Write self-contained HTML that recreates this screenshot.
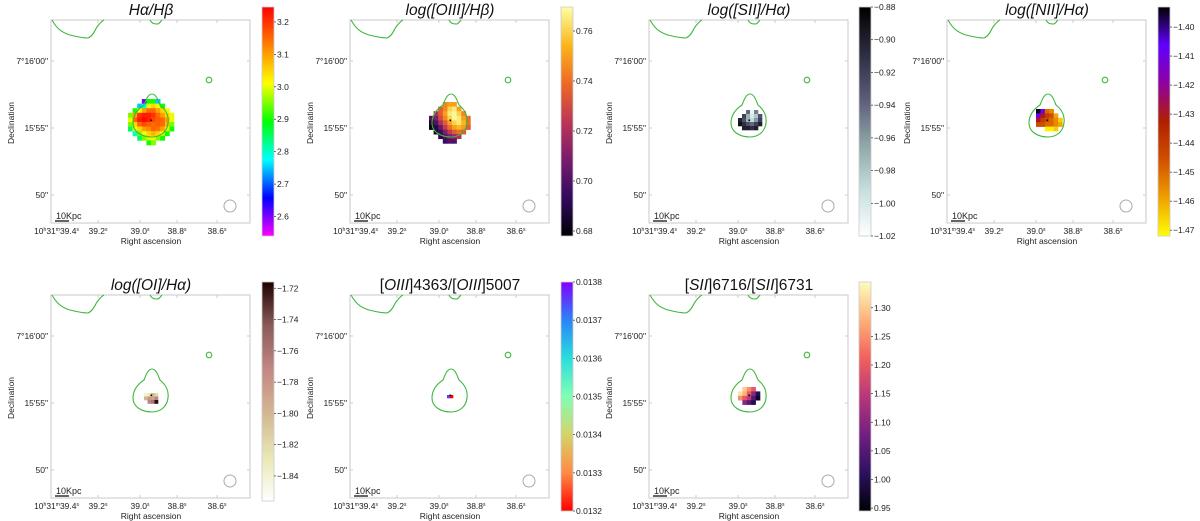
<!DOCTYPE html>
<html><head><meta charset="utf-8"><style>
html,body{margin:0;padding:0;background:#fff;}
svg{display:block;font-family:"Liberation Sans","DejaVu Sans",sans-serif;}
</style></head><body>
<svg id="fig" width="1200" height="521" viewBox="0 0 1200 521" xmlns="http://www.w3.org/2000/svg"></svg>
<script>
// ---- data ----
const xTickLabels = ["39.2", "39.0", "38.8", "38.6"];
const yTickLabels = ["7°16'00\"", "15'55\"", "50\""];
const cb1Ticks = [2.6, 2.7, 2.8, 2.9, 3.0, 3.1, 3.2];
const cb2Ticks = [0.68, 0.70, 0.72, 0.74, 0.76];
const cb3Ticks = [-1.02, -1.00, -0.98, -0.96, -0.94, -0.92, -0.90, -0.88];
const cb4Ticks = [-1.47, -1.46, -1.45, -1.44, -1.43, -1.42, -1.41, -1.40];
const cb5Ticks = [-1.84, -1.82, -1.80, -1.78, -1.76, -1.74, -1.72];
const cb6Ticks = [0.0132, 0.0133, 0.0134, 0.0135, 0.0136, 0.0137, 0.0138];
const cb7Ticks = [0.95, 1.00, 1.05, 1.10, 1.15, 1.20, 1.25, 1.30];
const N = null;
const map1 = [
 [N,N,N,2.6,2.9,2.9,2.75,N,N,N],
 [N,N,2.75,2.8,3.0,3.05,3.0,2.9,N,N],
 [N,2.9,3.0,3.1,3.15,3.15,3.1,3.05,3.0,N],
 [2.95,3.1,3.2,3.22,3.22,3.2,3.15,3.1,3.05,3.0],
 [3.0,3.15,3.22,3.24,3.22,3.18,3.16,3.15,3.1,3.0],
 [2.95,3.05,3.15,3.18,3.16,3.15,3.16,3.15,3.08,2.95],
 [2.85,3.0,3.05,3.1,3.12,3.15,3.14,3.1,3.0,2.9],
 [N,2.8,2.95,3.0,3.05,3.08,3.05,3.0,2.9,N],
 [N,N,2.85,2.95,3.0,3.0,2.95,2.9,N,N],
 [N,N,N,N,2.9,2.95,N,N,N,N]];
const map2 = [
 [N,N,N,.745,.75,.75,N,N,N],
 [N,N,.735,.745,.76,.765,.75,N,N],
 [N,.72,.735,.75,.765,.768,.76,.745,N],
 [.70,.71,.73,.745,.76,.768,.765,.75,.74],
 [.685,.70,.72,.735,.75,.76,.765,.755,.74],
 [.68,.69,.705,.725,.74,.75,.755,.75,.735],
 [N,.685,.695,.71,.725,.735,.74,.735,N],
 [N,N,.69,.70,.71,.715,.72,N,N],
 [N,N,N,.695,.70,.70,N,N,N]];
const map3 = [
 [N,N,-0.94,-1.01,-0.95,N],
 [N,-0.92,-0.97,-1.0,-0.98,-0.93],
 [-0.90,-0.93,-0.97,-0.99,-0.96,-0.92],
 [-0.89,-0.91,-0.93,-0.94,-0.92,-0.90],
 [N,-0.90,-0.90,-0.91,-0.90,N]];
const map4 = [
 [-1.395,-1.41,-1.45,-1.455,N,N],
 [-1.41,-1.43,-1.44,-1.445,-1.46,N],
 [-1.43,-1.44,-1.445,-1.45,-1.455,-1.465],
 [-1.445,-1.445,-1.45,-1.45,-1.455,-1.46],
 [N,N,-1.47,-1.47,-1.465,N]];
const map5 = [
 [-1.84,-1.83,-1.80,-1.82],
 [-1.80,-1.78,-1.79,-1.77],
 [N,-1.77,-1.76,-1.72]];
const map6 = [[0.01375,0.0132]];
const map7 = [
 [N,1.30,1.25,1.2,N],
 [1.32,1.28,1.2,1.1,1.0],
 [1.25,1.2,1.15,1.05,0.97],
 [N,1.1,1.05,1.0,N]];

const CM = {
 rainbow1:["#ff00ff","#0000ff","#00ffff","#00ff00","#ffff00","#ff8000","#ff0000"],
 inferno:["#000004","#320a5e","#781c6d","#bc3754","#ed6925","#fbb61a","#fcffa4"],
 bone_r:["#ffffff","#c6dede","#8fa6a6","#5b5b7a","#2c2c3f","#000000"],
 gnuplot_r:["#ffff00","#f0a000","#d05000","#b01f00","#9000a0","#6000ff","#000000"],
 pink_r:["#ffffff","#e8e8b4","#d3b792","#c38785","#8a5c5a","#1e0000"],
 rainbow_r:["#ff0000","#ff8a45","#d4d46a","#80ffb4","#2adddd","#2a85f7","#8000ff"],
 magma:["#000004","#2c115f","#721f81","#b73779","#f1605d","#feb078","#fcfdbf"]
};
const panels = [
 {L:51,T:20,cbx:262,cby0:7,cby1:236,vmin:2.54,vmax:3.246,ticks:cb1Ticks,dec:1,cm:"rainbow1",map:map1,ox:77,oy:79,cs:4.6,title:[["Hα/Hβ",1]]},
 {L:350,T:20,cbx:561,cby0:7,cby1:236,vmin:0.678,vmax:0.7696,ticks:cb2Ticks,dec:2,cm:"inferno",map:map2,ox:79,oy:82,cs:4.6,title:[["log([OIII]/Hβ)",1]]},
 {L:649,T:20,cbx:859,cby0:7,cby1:236,vmin:-1.02,vmax:-0.88,ticks:cb3Ticks,dec:2,cm:"bone_r",map:map3,ox:89,oy:90,cs:4,title:[["log([SII]/Hα)",1]]},
 {L:947,T:20,cbx:1158,cby0:7,cby1:236,vmin:-1.472,vmax:-1.3931,ticks:cb4Ticks,dec:2,cm:"gnuplot_r",map:map4,ox:89,oy:89,cs:4.4,title:[["log([NII]/Hα)",1]]},
 {L:51,T:295,cbx:262,cby0:282,cby1:501,vmin:-1.856,vmax:-1.716,ticks:cb5Ticks,dec:2,cm:"pink_r",map:map5,ox:93,oy:98,cs:3.5,title:[["log([OI]/Hα)",1]]},
 {L:350,T:295,cbx:561,cby0:282,cby1:511,vmin:0.0132,vmax:0.0138,ticks:cb6Ticks,dec:4,cm:"rainbow_r",map:map6,ox:97,oy:100,cs:3,title:[["[",0],["OIII",1],["]4363/[",0],["OIII",1],["]5007",0]]},
 {L:649,T:295,cbx:859,cby0:282,cby1:511,vmin:0.945,vmax:1.345,ticks:cb7Ticks,dec:2,cm:"magma",map:map7,ox:89,oy:92,cs:4.4,title:[["[",0],["SII",1],["]6716/[",0],["SII",1],["]6731",0]]}
];
const xTickPos=[47,89,126,166];
const yTickPos=[41,108,175];

function hex(c){return [parseInt(c.slice(1,3),16),parseInt(c.slice(3,5),16),parseInt(c.slice(5,7),16)];}
function cmap(name,t){
 const s=CM[name]; t=Math.max(0,Math.min(1,t));
 const f=t*(s.length-1), i=Math.min(Math.floor(f),s.length-2), u=f-i;
 const a=hex(s[i]), b=hex(s[i+1]);
 return "rgb("+a.map((v,k)=>Math.round(v+(b[k]-v)*u)).join(",")+")";
}
const NS="http://www.w3.org/2000/svg";
const svg=document.getElementById("fig");
function el(tag,attrs,parent,text){
 const e=document.createElementNS(NS,tag);
 for(const k in attrs) e.setAttribute(k,attrs[k]);
 if(text!==undefined) e.textContent=text;
 (parent||svg).appendChild(e); return e;
}
const defs=el("defs",{});
panels.forEach((p,pi)=>{
 const g=el("g",{transform:"translate("+p.L+","+p.T+")"});
 
 
 const fr=el("rect",{x:0,y:0,width:199,height:203,fill:"#fff",stroke:"#c8c8c8","stroke-width":1},g);
 
 
 const yS=v=>(v-p.vmin)/(p.vmax-p.vmin);
 p.map.forEach((row,r)=>row.forEach((v,c)=>{
  if(v===null) return;
  const cell=el("rect",{x:p.ox+c*p.cs,y:p.oy+r*p.cs,width:p.cs+0.3,height:p.cs+0.3,fill:cmap(p.cm,yS(v))},g);
  
  
 }));
 const c1=el("path",{d:"M1,0 C5,7 9,12 19,15 C27,17 33,18 37,18 C42,16 44,10 46,7 C49,3 51,1 53,0",fill:"none",stroke:"#3cb83c","stroke-width":1.1},g);
 
 
 const c2=el("path",{d:"M99,0 C101,4 104,4 107,4 C109,3 110,1 111,0",fill:"none",stroke:"#3cb83c","stroke-width":1.1},g);
 
 
 const c3=el("path",{d:"M101,74 C105,74 107,80 109,85 C114,89 118,95 117,103 C116,112 109,117 101,117 C91,117 82,112 82,103 C82,95 87,89 93,85 C95,80 97,74 101,74 Z",fill:"none",stroke:"#3cb83c","stroke-width":1.1},g);
 
 
 const c4=el("circle",{cx:158,cy:60,r:2.8,fill:"none",stroke:"#3cb83c","stroke-width":1.1},g);
 
 
 const beam=el("circle",{cx:179,cy:186,r:6,fill:"none",stroke:"#aaa","stroke-width":1},g);
 
 
 const dot=el("rect",{x:99.5,y:99.5,width:1.6,height:1.6,fill:"#000"},g);
 
 
 const sb=el("line",{x1:4,x2:18,y1:201,y2:201,stroke:"#333","stroke-width":1.5},g);
 
 
 const sbt=el("text",{x:5,y:199,"font-size":9,fill:"#222"},g,"10Kpc");
 
 
 xTickPos.forEach((x,i)=>{
  el("line",{x1:x,x2:x,y1:203,y2:200,stroke:"#ccc"},g);
  el("line",{x1:x,x2:x,y1:0,y2:3,stroke:"#ccc"},g);
  const t=el("text",{x:x,y:214,"font-size":8.5,"text-anchor":"middle",fill:"#222"},g);
  t.innerHTML=xTickLabels[i]+"<tspan dy='-3' font-size='5'>s</tspan>";
  
  
 });
 const t0=el("text",{x:28,y:214,"font-size":8.5,"text-anchor":"end",fill:"#222"},g);
 t0.innerHTML="10<tspan dy='-3' font-size='5'>h</tspan><tspan dy='3'>31</tspan><tspan dy='-3' font-size='5'>m</tspan><tspan dy='3'>39.4</tspan><tspan dy='-3' font-size='5'>s</tspan>";
 
 
 yTickPos.forEach((y,i)=>{
  el("line",{x1:0,x2:3,y1:y,y2:y,stroke:"#ccc"},g);
  el("line",{x1:199,x2:196,y1:y,y2:y,stroke:"#ccc"},g);
  const t=el("text",{x:-3,y:y+3,"font-size":8.5,"text-anchor":"end",fill:"#222"},g,yTickLabels[i]);
  
  
 });
 const xl=el("text",{x:100,y:224,"font-size":8.5,"text-anchor":"middle",fill:"#222"},g,"Right ascension");
 
 
 const yl=el("text",{x:0,y:0,"font-size":8.5,"text-anchor":"middle",fill:"#222",transform:"translate(-37,103) rotate(-90)"},g,"Declination");
 
 
 const tt=el("text",{x:100,y:-5,"font-size":15.5,"text-anchor":"middle",fill:"#111"},g);
 p.title.forEach(([s,it])=>{el("tspan",it?{"font-style":"italic"}:{},tt,s);});
 
 
 const gid="cg"+pi;
 const lg=el("linearGradient",{id:gid,x1:0,y1:1,x2:0,y2:0},defs);
 CM[p.cm].forEach((c,i,a)=>el("stop",{offset:(i/(a.length-1)),"stop-color":c},lg));
 const cbh=p.cby1-p.cby0;
 const cb=el("rect",{x:p.cbx,y:p.cby0,width:12,height:cbh,fill:"url(#"+gid+")",stroke:"#ccc","stroke-width":0.8});
 
 
 const cy=v=>p.cby1-(v-p.vmin)/(p.vmax-p.vmin)*cbh;
 p.ticks.forEach(v=>{
  const y=cy(v);
  el("line",{x1:p.cbx+12,x2:p.cbx+14,y1:y,y2:y,stroke:"#333","stroke-width":0.7});
  const s=v<0?"\u2212"+Math.abs(v).toFixed(p.dec):v.toFixed(p.dec);
  const t=el("text",{x:p.cbx+15,y:y+3,"font-size":8.5,fill:"#222"},svg,s);
  
  
 });
});
</script>
</body></html>
